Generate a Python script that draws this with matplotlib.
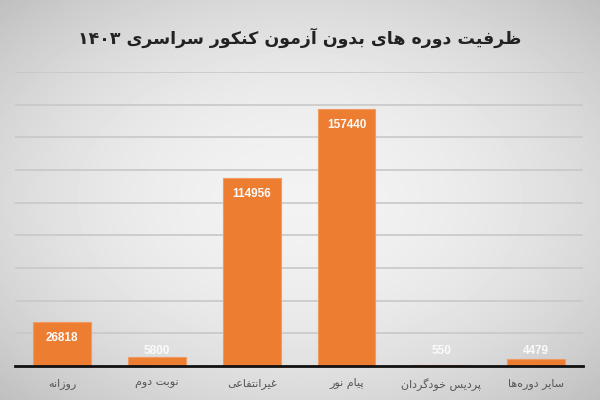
import re
import numpy as np
import matplotlib
matplotlib.use("Agg")
import matplotlib.pyplot as plt

# ======= data =======
title = "ظرفیت دوره های بدون آزمون کنکور سراسری ۱۴۰۳"
categories = ["روزانه", "نوبت دوم", "غیرانتفاعی", "پیام نور", "پردیس خودگردان", "سایر دوره\u200cها"]
values = [26818, 5800, 114956, 157440, 550, 4479]

# ======= simple arabic/persian shaping (matplotlib has no bidi) =======
FORMS = {
    "ا": ("\uFE8D", "\uFE8E", None, None),
    "آ": ("\uFE81", "\uFE82", None, None),
    "ب": ("\uFE8F", "\uFE90", "\uFE91", "\uFE92"),
    "پ": ("\uFB56", "\uFB57", "\uFB58", "\uFB59"),
    "ت": ("\uFE95", "\uFE96", "\uFE97", "\uFE98"),
    "ج": ("\uFE9D", "\uFE9E", "\uFE9F", "\uFEA0"),
    "خ": ("\uFEA5", "\uFEA6", "\uFEA7", "\uFEA8"),
    "د": ("\uFEA9", "\uFEAA", None, None),
    "ر": ("\uFEAD", "\uFEAE", None, None),
    "ز": ("\uFEAF", "\uFEB0", None, None),
    "س": ("\uFEB1", "\uFEB2", "\uFEB3", "\uFEB4"),
    "ط": ("\uFEC1", "\uFEC2", "\uFEC3", "\uFEC4"),
    "ظ": ("\uFEC5", "\uFEC6", "\uFEC7", "\uFEC8"),
    "ع": ("\uFEC9", "\uFECA", "\uFECB", "\uFECC"),
    "غ": ("\uFECD", "\uFECE", "\uFECF", "\uFED0"),
    "ف": ("\uFED1", "\uFED2", "\uFED3", "\uFED4"),
    "ک": ("\uFB8E", "\uFB8F", "\uFB90", "\uFB91"),
    "گ": ("\uFB92", "\uFB93", "\uFB94", "\uFB95"),
    "ل": ("\uFEDD", "\uFEDE", "\uFEDF", "\uFEE0"),
    "م": ("\uFEE1", "\uFEE2", "\uFEE3", "\uFEE4"),
    "ن": ("\uFEE5", "\uFEE6", "\uFEE7", "\uFEE8"),
    "ه": ("\uFEE9", "\uFEEA", "\uFEEB", "\uFEEC"),
    "و": ("\uFEED", "\uFEEE", None, None),
    "ی": ("\uFBFC", "\uFBFD", "\uFBFE", "\uFBFF"),
}


def rtl(s):
    out = []
    for i, c in enumerate(s):
        if c not in FORMS:
            out.append(c)
            continue
        p = s[i - 1] if i > 0 else ""
        n = s[i + 1] if i + 1 < len(s) else ""
        jp = p in FORMS and FORMS[p][2] is not None
        jn = FORMS[c][2] is not None and n in FORMS
        iso, fin, ini, med = FORMS[c]
        out.append(med if jp and jn else fin if jp else ini if jn else iso)
    s2 = "".join(out).replace("\u200c", "")
    runs = re.findall(r"[0-9\u06F0-\u06F9]+|[^0-9\u06F0-\u06F9]+", s2)
    return "".join(r if r[0].isdigit() else r[::-1] for r in reversed(runs))


plt.rcParams["font.family"] = ["DejaVu Sans"]

fig = plt.figure(figsize=(6, 4), dpi=100)

# gray radial background
bg = fig.add_axes([0, 0, 1, 1], zorder=-5)
yy, xx = np.mgrid[-1:1:200j, -1:1:300j]
r = np.sqrt(xx ** 2 + yy ** 2) / np.sqrt(2)
shade = 0.95 - 0.2 * r ** 2
bg.imshow(shade, cmap="gray", vmin=0, vmax=1, aspect="auto", extent=[0, 1, 0, 1])
bg.axis("off")

ax = fig.add_axes([0.025, 0.085, 0.947, 0.735])
ax.set_facecolor("none")
x = np.arange(len(categories))
ax.bar(x, values, width=0.61, color="#ED7D31", edgecolor="#F09A60", linewidth=0.8, zorder=3)

ax.set_ylim(0, 180000)
ax.set_xlim(-0.5, len(categories) - 0.5)
ax.set_yticks(np.arange(20000, 180001, 20000))
ax.yaxis.grid(True, color="#c8c8c8", linewidth=1.2, zorder=0)
ax.tick_params(left=False, labelleft=False, bottom=False)
for s in ["top", "right", "left"]:
    ax.spines[s].set_visible(False)
ax.spines["bottom"].set_linewidth(2)
ax.spines["bottom"].set_color("#111111")
ax.spines["bottom"].set_zorder(4)

ax.set_xticks(x)
ax.set_xticklabels([rtl(c) for c in categories], fontsize=8, color="#555555")
ax.tick_params(axis="x", pad=5)

for xi, v in zip(x, values):
    yl = max(v - 9800, 9200)
    ax.text(xi, yl, str(v), ha="center", va="center", color="#fbfbfb",
            fontsize=8.5, fontweight="bold", zorder=5,
            family=["Liberation Sans", "DejaVu Sans"])

fig.text(0.5, 0.905, rtl(title), ha="center", va="center", fontsize=12.5,
         fontweight="bold", color="#222222")

fig.savefig("out.png", dpi=100)
